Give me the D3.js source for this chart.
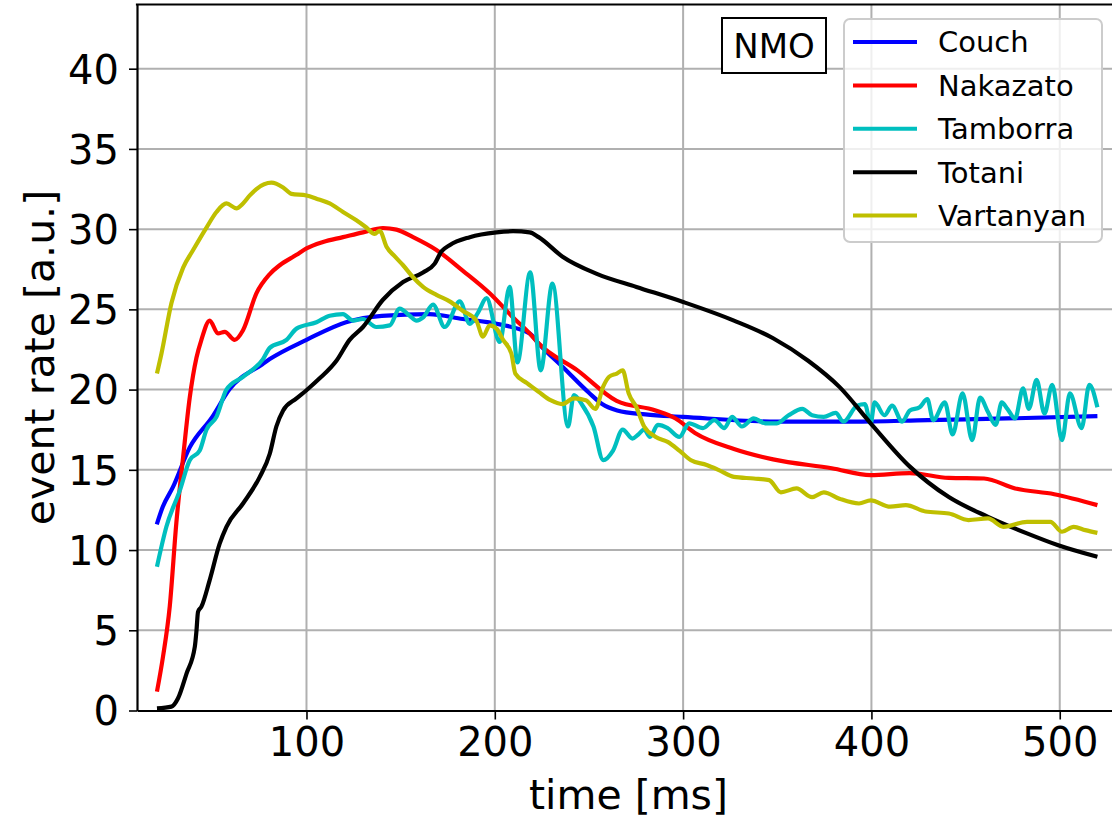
<!DOCTYPE html>
<html>
<head>
<meta charset="utf-8">
<script src="https://cdn.jsdelivr.net/npm/d3@7"></script>
<style>
  html, body { margin: 0; padding: 0; background: #fff; overflow: hidden; }
  svg { display: block; font-family: "DejaVu Sans", sans-serif; }
</style>
</head>
<body>
<svg id="chart" width="1112" height="819"></svg>
<script>
// ---------------------------------------------------------------------------
// Data
// ---------------------------------------------------------------------------
const seriesNames  = ["Couch", "Nakazato", "Tamborra", "Totani", "Vartanyan"];
const seriesColors = ["#0000ff", "#ff0000", "#00bfbf", "#000000", "#bfbf00"];

const couchT = [20.5, 23.7, 29, 38, 50, 59, 76.8, 80.5, 100, 121, 140, 165, 183, 201, 218.5,
  223, 237, 250, 257, 265, 280, 300, 350, 390, 430, 472, 520];
const couchY = [11.6, 12.7, 13.9, 16.4, 18.3, 20.0, 21.6, 21.9, 23.1, 24.2, 24.6, 24.7, 24.4, 24.1, 23.5,
  22.9, 21.3, 19.8, 19.1, 18.7, 18.45, 18.3, 18.0, 18.0, 18.1, 18.2, 18.35];

const nakazatoT = [20.6, 23.8, 27.4, 30.9, 34.5, 38, 41.6, 44.2, 48.6, 53, 56.6, 61.9, 66.3, 73.4, 80.5,
  85.8, 94.7, 100, 108.8, 119.4, 130, 140.6, 147.8, 156.6, 169, 183.1, 197.3, 209.7, 218.5, 223.3,
  243.9, 264.7, 285.4, 296, 306.3, 327, 347.8, 378.9, 399.6, 420.3, 441, 459.8, 476.3, 497.1, 520];
const nakazatoY = [1.17, 3.35, 6.5, 11.7, 15.8, 19.5, 22.0, 23.1, 24.3, 23.5, 23.6, 23.1, 23.7, 26.0, 27.2,
  27.75, 28.4, 28.8, 29.2, 29.5, 29.8, 30.07, 29.97, 29.5, 28.7, 27.4, 26.0, 24.5, 23.5, 22.87,
  21.2, 19.3, 18.7, 18.2, 17.3, 16.3, 15.65, 15.1, 14.67, 14.8, 14.5, 14.46, 13.84, 13.48, 12.8];

const tamborraT = [20.6, 25.6, 32.7, 38, 43.3, 46.9, 52.2, 57.5, 66.3, 76.9, 80.5, 89.4, 94.7, 105.3,
  112.3, 119.4, 124.7, 130, 137.1, 144.2, 149.5, 154.8, 158.4, 162, 167.2, 173.4, 181.4, 186.7, 191.1,
  195.6, 202.6, 207.9, 212, 218.8, 224.4, 230.6, 238.9, 242, 246.1, 252.4, 257.6, 262.8, 267.9, 273.1,
  276.2, 279.3, 282.4, 286.6, 291.8, 298, 303.2, 310.5, 316.6, 321.9, 326, 331.2, 337.5, 343.6, 349.8,
  356, 363.3, 368.5, 374.7, 381, 385.1, 392.4, 396.5, 399.6, 401.7, 406.9, 411, 416.3, 420.4, 425.6,
  429.7, 432.8, 439, 443.1, 448.4, 453.5, 457.7, 461.9, 466, 469.2, 472.2, 476.3, 480.5, 483.6, 487.7,
  491.9, 496, 501.2, 505.4, 511.6, 515.7, 520];
const tamborraY = [8.96, 11.45, 13.7, 15.6, 16.2, 17.5, 18.3, 20.0, 20.8, 21.9, 22.6, 23.1, 23.8, 24.2,
  24.6, 24.7, 24.3, 24.4, 23.9, 24.0, 25.05, 24.6, 24.3, 24.5, 25.3, 23.9, 25.5, 24.1, 24.8,
  25.7, 22.97, 26.4, 21.7, 27.3, 21.2, 26.6, 17.7, 19.65, 19.1, 17.7, 15.6, 16.2, 17.5, 16.95,
  17.2, 17.5, 17.05, 17.8, 17.6, 17.05, 17.9, 17.6, 18.1, 17.6, 18.3, 17.7, 18.2, 17.9, 17.9,
  18.4, 18.8, 18.4, 18.3, 18.55, 18.0, 19.0, 19.1, 17.9, 19.2, 18.4, 19.0, 18.0, 18.7, 18.9,
  19.4, 18.1, 19.2, 17.2, 19.76, 16.85, 19.5, 18.6, 17.8, 19.2, 18.8, 18.2, 20.07, 18.8, 20.6,
  18.5, 20.3, 16.85, 19.76, 17.6, 20.3, 18.9];

const totaniT = [20.6, 28.3, 31.8, 36.3, 40.7, 41.6, 42.4, 44.2, 48.6, 53.9, 57.5, 66.3, 75.2, 80.5,
  84, 87.6, 94.7, 100, 107, 115.9, 122.9, 130, 140.6, 151.3, 161.9, 168.1, 171.6, 176, 186.7, 200.9,
  209.7, 218.5, 223.3, 235.8, 254.5, 275.2, 300, 327, 347.8, 366.4, 383, 399.6, 420.4, 441.1, 461.9,
  482.6, 499.2, 520];
const totaniY = [0.13, 0.24, 0.76, 2.3, 3.97, 5.0, 6.15, 6.47, 8.13, 10.4, 11.45, 12.9, 14.56, 16.0,
  17.7, 18.7, 19.45, 19.96, 20.7, 21.8, 23.1, 23.9, 25.6, 26.7, 27.3, 27.85, 28.6, 29.0, 29.5, 29.8,
  29.87, 29.8, 29.5, 28.3, 27.2, 26.4, 25.46, 24.3, 23.2, 21.8, 20.17, 17.9, 15.2, 13.3, 12.07,
  11.04, 10.3, 9.58];

const vartanyanT = [20.6, 23, 28.3, 34.5, 39.8, 46.9, 52.2, 57.5, 62.8, 66.3, 69.9, 73.4, 81.4, 87.6,
  92, 100, 105.3, 112.3, 119.4, 126.5, 131.8, 136.2, 138.9, 142.5, 146.9, 151.3, 156.6, 161.9, 169,
  176, 183.1, 190.2, 193.7, 197.3, 200.9, 204.4, 208.8, 210.9, 217.1, 223.3, 229.6, 235.8, 242, 248.3,
  253.4, 257.6, 260.7, 264.8, 267.9, 271.1, 275.2, 279.3, 285.5, 291.8, 298, 304.2, 312.5, 318.7, 327,
  337.5, 345.7, 351.9, 360.2, 368.5, 374.7, 383, 393.4, 399.6, 410, 418.3, 428.7, 441.1, 451.5, 461.9,
  470.1, 482.6, 495, 501.2, 507.4, 513.6, 520];
const vartanyanY = [21.0, 22.25, 25.4, 27.6, 28.7, 30.1, 31.07, 31.6, 31.3, 31.6, 32.1, 32.5, 32.9, 32.6,
  32.2, 32.1, 31.9, 31.6, 31.07, 30.55, 30.1, 29.7, 29.9, 28.9, 28.3, 27.75, 27.0, 26.4, 25.9,
  25.5, 24.9, 24.3, 23.3, 24.0, 23.8, 23.1, 22.25, 21.0, 20.4, 19.86, 19.34, 19.1, 19.45, 19.34,
  18.8, 20.2, 20.8, 21.0, 21.2, 19.76, 18.9, 17.7, 17.05, 16.74, 16.2, 15.6, 15.3, 15.0, 14.56,
  14.46, 14.36, 13.6, 13.84, 13.3, 13.6, 13.2, 12.9, 13.1, 12.7, 12.8, 12.4, 12.28, 11.87, 11.97,
  11.45, 11.76, 11.76, 11.14, 11.45, 11.24, 11.07];

const seriesT = [couchT, nakazatoT, tamborraT, totaniT, vartanyanT];
const seriesY = [couchY, nakazatoY, tamborraY, totaniY, vartanyanY];

const xTicks = [100, 200, 300, 400, 500];
const yTicks = [0, 5, 10, 15, 20, 25, 30, 35, 40];

// ---------------------------------------------------------------------------
// Layout — the axes box runs a little past the right edge of the picture
// ---------------------------------------------------------------------------
const plot = { left: 137, right: 1120, top: 4.5, bottom: 710.5 };

const x = d3.scaleLinear().domain([10, 532]).range([plot.left, plot.right]);
const y = d3.scaleLinear().domain([0, 44]).range([plot.bottom, plot.top]);

const svg = d3.select("#chart");

// Grid lines sit beneath the data.
const grid = svg.append("g").attr("stroke", "#b0b0b0").attr("stroke-width", 2);
grid.selectAll(".gx").data(xTicks).join("line")
  .attr("x1", d => x(d)).attr("x2", d => x(d))
  .attr("y1", plot.top).attr("y2", plot.bottom);
grid.selectAll(".gy").data(yTicks.filter(v => v > 0)).join("line")
  .attr("x1", plot.left).attr("x2", plot.right)
  .attr("y1", d => y(d)).attr("y2", d => y(d));

// Data lines.
const line = d3.line()
  .x(d => x(d[0])).y(d => y(d[1]))
  .curve(d3.curveMonotoneX);

const lines = svg.append("g").attr("fill", "none")
  .attr("stroke-width", 4.2).attr("stroke-linejoin", "round");
seriesNames.forEach((name, i) => {
  const pts = seriesT[i].map((t, j) => [t, seriesY[i][j]]);
  lines.append("path")
    .attr("d", line(pts))
    .attr("stroke", seriesColors[i]);
});

// Axes (no outer ticks: matplotlib draws plain spines).
const xAxis = svg.append("g")
  .attr("transform", `translate(0,${plot.bottom})`)
  .call(d3.axisBottom(x).tickValues(xTicks).tickSize(9).tickSizeOuter(0).tickPadding(8));
const yAxis = svg.append("g")
  .attr("transform", `translate(${plot.left},0)`)
  .call(d3.axisLeft(y).tickValues(yTicks).tickSize(8).tickSizeOuter(0).tickPadding(10));

[xAxis, yAxis].forEach(a => {
  a.select(".domain").attr("stroke", "#000").attr("stroke-width", 2.2);
  a.selectAll(".tick line").attr("stroke", "#000").attr("stroke-width", 1.6);
  a.selectAll(".tick text")
    .attr("fill", "#000")
    .attr("font-family", "DejaVu Sans")
    .attr("font-size", 40);
});
xAxis.selectAll(".tick text").attr("dy", "0.71em");
yAxis.selectAll(".tick text").attr("dy", "0.36em");

// Top spine (right spine falls outside the picture).
svg.append("line")
  .attr("x1", plot.left - 1.1).attr("x2", plot.right)
  .attr("y1", plot.top).attr("y2", plot.top)
  .attr("stroke", "#000").attr("stroke-width", 2.2);

// Axis labels.
svg.append("text")
  .attr("x", (plot.left + plot.right) / 2).attr("y", 809)
  .attr("text-anchor", "middle").attr("font-size", 41)
  .text("time [ms]");

svg.append("text")
  .attr("transform", `translate(54,${(plot.top + plot.bottom) / 2}) rotate(-90)`)
  .attr("text-anchor", "middle").attr("font-size", 41)
  .text("event rate [a.u.]");

// "NMO" tag.
const tag = svg.append("g");
tag.append("rect")
  .attr("x", 722).attr("y", 18).attr("width", 104).attr("height", 55)
  .attr("fill", "#fff").attr("stroke", "#000").attr("stroke-width", 2);
tag.append("text")
  .attr("x", 774).attr("y", 45.5).attr("dy", "0.36em")
  .attr("text-anchor", "middle").attr("font-size", 34)
  .text("NMO");

// Legend.
const legend = svg.append("g");
legend.append("rect")
  .attr("x", 844).attr("y", 19).attr("width", 258).attr("height", 223)
  .attr("rx", 6).attr("ry", 6)
  .attr("fill", "#fff").attr("fill-opacity", 0.8)
  .attr("stroke", "#cccccc").attr("stroke-width", 2);
seriesNames.forEach((name, i) => {
  const ly = 42 + i * 43.4;
  legend.append("line")
    .attr("x1", 853).attr("x2", 917).attr("y1", ly).attr("y2", ly)
    .attr("stroke", seriesColors[i]).attr("stroke-width", 4);
  legend.append("text")
    .attr("x", 938).attr("y", ly).attr("dy", "0.36em")
    .attr("font-size", 29)
    .text(name);
});
</script>
</body>
</html>
